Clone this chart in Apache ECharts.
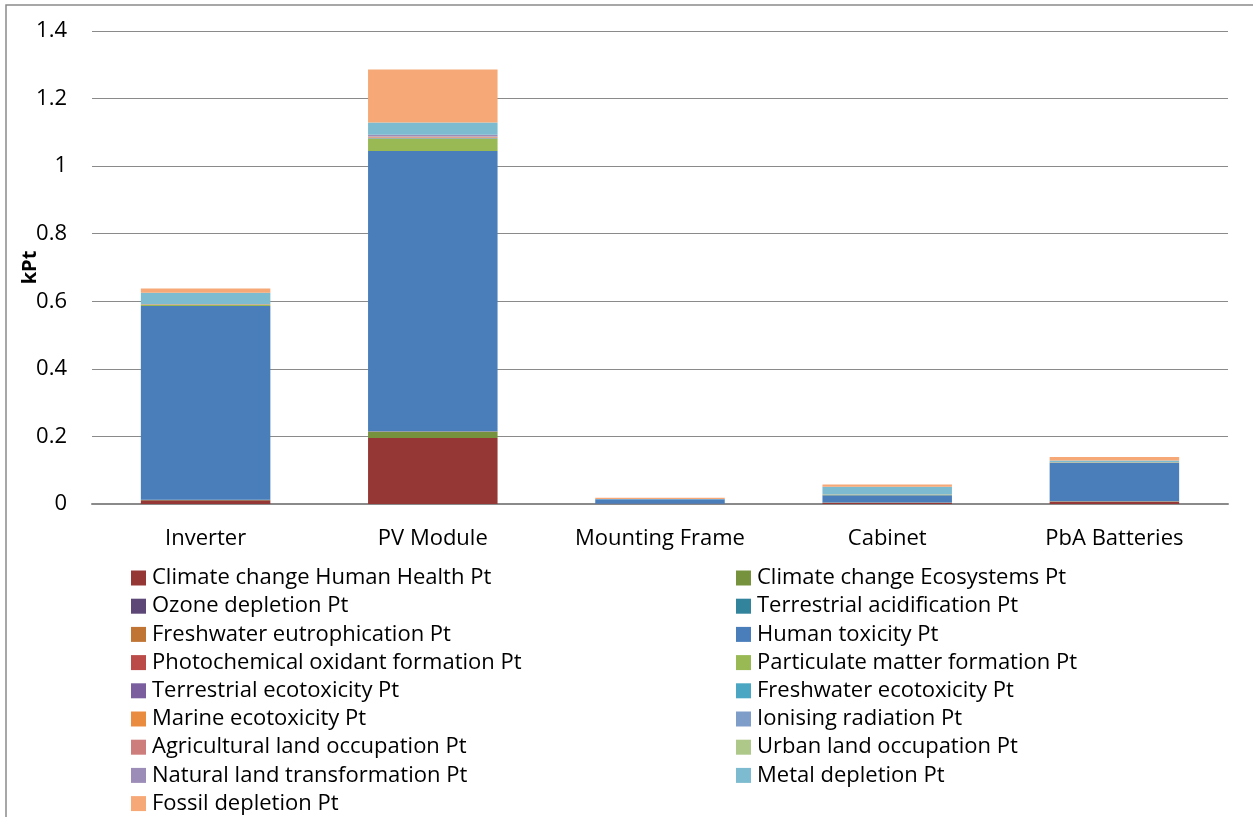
<!DOCTYPE html>
<html>
<head>
<meta charset="utf-8">
<title>kPt by component</title>
<script src="https://cdn.jsdelivr.net/npm/echarts@6/dist/echarts.min.js"></script>
<style>
  html, body { margin: 0; padding: 0; background: #ffffff; }
  #chart { width: 1253px; height: 817px; }
</style>
</head>
<body>
<div id="chart"></div>
<script>
// Components (x axis)
const categories = ['Inverter', 'PV Module', 'Mounting Frame', 'Cabinet', 'PbA Batteries'];

// Impact category names, in stacking order (bottom to top)
const seriesNames = [
  'Climate change Human Health Pt',
  'Climate change Ecosystems Pt',
  'Ozone depletion Pt',
  'Terrestrial acidification Pt',
  'Freshwater eutrophication Pt',
  'Human toxicity Pt',
  'Photochemical oxidant formation Pt',
  'Particulate matter formation Pt',
  'Terrestrial ecotoxicity Pt',
  'Freshwater ecotoxicity Pt',
  'Marine ecotoxicity Pt',
  'Ionising radiation Pt',
  'Agricultural land occupation Pt',
  'Urban land occupation Pt',
  'Natural land transformation Pt',
  'Metal depletion Pt',
  'Fossil depletion Pt'
];

// Values in kPt per component
const climateHumanHealth   = [0.011, 0.195, 0.001, 0.004, 0.007];
const climateEcosystems    = [0.001, 0.018, 0.0001, 0.0005, 0.0005];
const ozoneDepletion       = [0.0001, 0.0005, 0, 0, 0];
const terrestrialAcid      = [0.0003, 0.001, 0, 0.0001, 0.0002];
const freshwaterEutroph    = [0.0005, 0.0005, 0, 0.0001, 0.0001];
const humanToxicity        = [0.573, 0.830, 0.013, 0.021, 0.114];
const photochemOxidant     = [0, 0, 0, 0, 0];
const particulateMatter    = [0.004, 0.037, 0.0002, 0.0015, 0.001];
const terrestrialEcotox    = [0.0002, 0.0005, 0, 0, 0];
const freshwaterEcotox     = [0.0005, 0.001, 0, 0.0003, 0.0003];
const marineEcotox         = [0.0005, 0.001, 0, 0.0003, 0.0003];
const ionisingRadiation    = [0.0002, 0.0005, 0, 0, 0];
const agriculturalLand     = [0.0003, 0.002, 0, 0, 0];
const urbanLand            = [0.0001, 0.0006, 0, 0, 0];
const naturalLandTransf    = [0.0002, 0.005, 0, 0, 0];
const metalDepletion       = [0.033, 0.0364, 0.0005, 0.023, 0.005];
const fossilDepletion      = [0.013, 0.157, 0.004, 0.007, 0.011];

const seriesValues = [
  climateHumanHealth, climateEcosystems, ozoneDepletion, terrestrialAcid,
  freshwaterEutroph, humanToxicity, photochemOxidant, particulateMatter,
  terrestrialEcotox, freshwaterEcotox, marineEcotox, ionisingRadiation,
  agriculturalLand, urbanLand, naturalLandTransf, metalDepletion, fossilDepletion
];

// Y axis ticks
const yTicks = [0, 0.2, 0.4, 0.6, 0.8, 1, 1.2, 1.4];

const colors = [
  '#953735', '#76923C', '#5C4776', '#31849B', '#C07535', '#4A7EBB',
  '#BA4B48', '#98B954', '#7A5E9D', '#4AA6C2', '#EA8C40', '#7F9DC9',
  '#CD7E7C', '#AEC88A', '#9C8DB8', '#7DBBD0', '#F6A977'
];

const FONT = 'Open Sans';
const FONT_SIZE = 22;

const chart = echarts.init(document.getElementById('chart'), null, { renderer: 'canvas' });

const series = seriesNames.map((name, i) => ({
  name: name,
  type: 'bar',
  stack: 'total',
  barCategoryGap: '43%',
  data: seriesValues[i],
  itemStyle: { color: colors[i] },
  emphasis: { disabled: true }
}));

const leftNames = seriesNames.filter((_, i) => i % 2 === 0);
const rightNames = seriesNames.filter((_, i) => i % 2 === 1);

// Two vertical legend columns; the left one runs past the bottom edge
const legendBase = {
  orient: 'vertical',
  top: 567,
  height: 320,
  padding: 0,
  itemWidth: 15,
  itemHeight: 15,
  itemGap: 6.2,
  icon: 'rect',
  selectedMode: false,
  textStyle: { fontFamily: FONT, fontSize: FONT_SIZE, color: '#000', lineHeight: 22, padding: [0, 0, 0, 1] }
};

chart.setOption({
  animation: false,
  color: colors,
  graphic: [{
    type: 'rect',
    shape: { x: 6, y: 5, width: 1400, height: 1000 },
    style: { fill: 'none', stroke: '#8a8a8a', lineWidth: 1.5 },
    silent: true
  }],
  grid: { left: 92, right: 25, top: 31, bottom: 313 },
  legend: [
    Object.assign({}, legendBase, { left: 131, data: leftNames }),
    Object.assign({}, legendBase, { left: 736, data: rightNames })
  ],
  xAxis: {
    type: 'category',
    data: categories,
    axisLine: { show: true, lineStyle: { color: '#8a8a8a', width: 2 } },
    axisTick: { show: false },
    axisLabel: { color: '#000', fontFamily: FONT, fontSize: FONT_SIZE, margin: 24 }
  },
  yAxis: {
    type: 'value',
    min: yTicks[0],
    max: yTicks[yTicks.length - 1],
    interval: 0.2,
    name: 'kPt',
    nameLocation: 'middle',
    nameGap: 52,
    nameMoveOverlap: false,
    nameRotate: 90,
    nameTextStyle: { color: '#000', fontFamily: FONT, fontSize: 20, fontWeight: 'bold' },
    axisLine: { show: false },
    axisTick: { show: false },
    axisLabel: {
      color: '#000', fontFamily: FONT, fontSize: FONT_SIZE, margin: 25,
      formatter: v => String(Math.round(v * 10) / 10)
    },
    splitLine: { lineStyle: { color: '#8a8a8a', width: 1 } }
  },
  series: series
});
</script>
</body>
</html>
